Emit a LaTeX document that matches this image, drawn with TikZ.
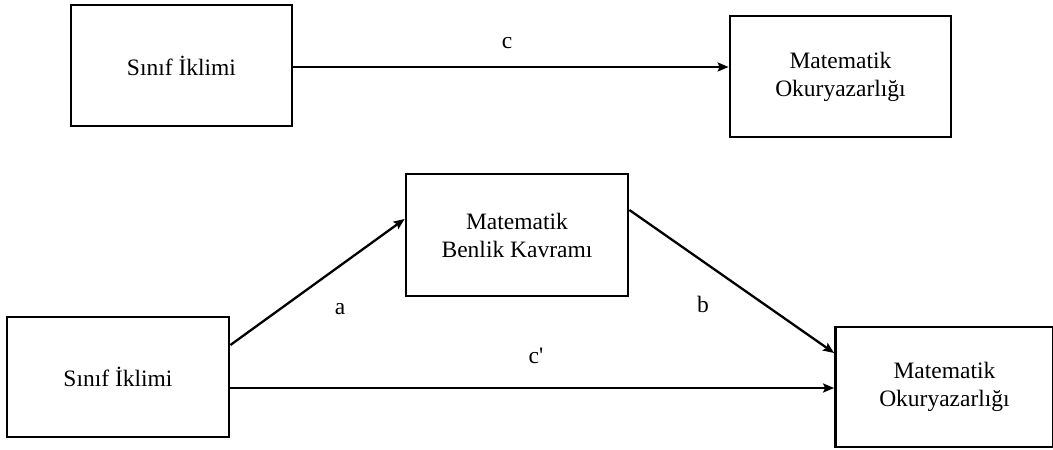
\documentclass[tikz,border=0pt]{standalone}
\usepackage{fontspec}
\setmainfont{Liberation Serif}
\usetikzlibrary{arrows.meta,calc}
\begin{document}
\begin{tikzpicture}[x=1pt,y=-1pt,
  box/.style={draw,line width=2.8pt,align=center,inner sep=0pt,
    font=\fontsize{23.5}{28}\selectfont},
  arr/.style={line width=2.3pt,-{Stealth[length=11pt,width=9pt,inset=2pt]}},
  lbl/.style={font=\fontsize{23.5}{28}\selectfont,inner sep=0pt}]
\useasboundingbox (0,0) rectangle (1053,450);
\clip (0,0) rectangle (1053,450);
\node[box,minimum width=221pt,minimum height=121pt] (t1) at (181.5,65.5) {Sınıf İklimi};
\node[box,minimum width=221pt,minimum height=121pt] (t2) at (840.5,76.5) {Matematik\\Okuryazarlığı};
\node[box,minimum width=222pt,minimum height=122pt] (m) at (517,235) {Matematik\\Benlik Kavramı};
\node[box,minimum width=222pt,minimum height=120pt] (b1) at (118,377) {Sınıf İklimi};
\node[box,minimum width=218pt,minimum height=120pt] (b2) at (944.5,387) {Matematik\\Okuryazarlığı};
\draw[arr] ($(t1.east)+(0,1.5)$) -- ($(t1.east -| t2.west)+(0,1.5)$);
\draw[arr] ($(b1.east)+(0,-32)$) -- ($(m.west)+(0,-16)$);
\draw[arr] ($(m.east)+(0,-25)$) -- ($(b2.west)+(0,-34)$);
\draw[arr] ($(b1.east)+(0,11)$) -- ($(b1.east -| b2.west)+(0,11)$);
\node[lbl] (lc) at (507,43) {c};
\node[lbl] (la) at (340,309) {a};
\node[lbl] (lb) at (703,304) {b};
\node[lbl] (lcp) at (536,356) {c\textquotesingle};
\end{tikzpicture}
\end{document}
